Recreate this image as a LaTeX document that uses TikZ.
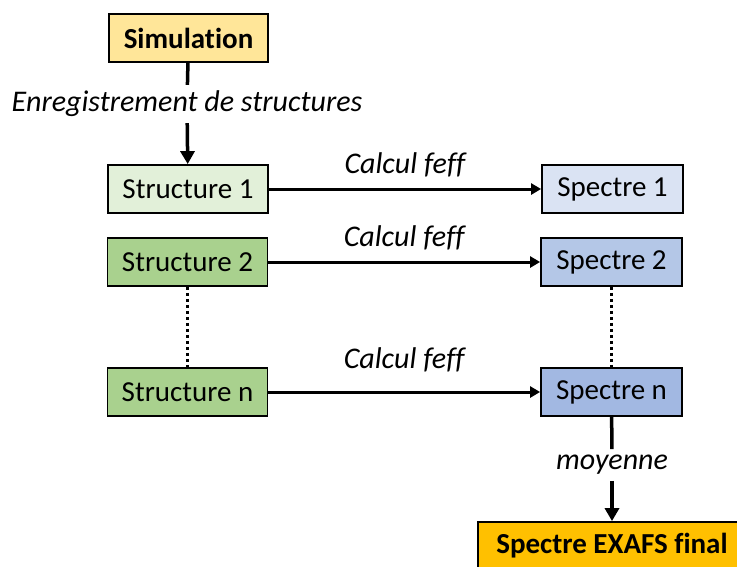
\documentclass[tikz,border=0pt]{standalone}
\usepackage{fontspec}
\setmainfont[Ligatures=NoCommon]{Carlito}
\usetikzlibrary{arrows.meta}

\definecolor{simfill}{HTML}{FFE699}
\definecolor{strucA}{HTML}{E2F0D9}
\definecolor{strucB}{HTML}{A9D18E}
\definecolor{specA}{HTML}{DAE3F3}
\definecolor{specB}{HTML}{B4C7E7}
\definecolor{specC}{HTML}{A2B8E2}
\definecolor{finfill}{HTML}{FFC000}

\begin{document}
\begin{tikzpicture}[x=1pt, y=-1pt,
    box/.style={draw, line width=1.8pt, minimum height=48pt, inner sep=0pt,
      font=\fontsize{29}{34}\selectfont},
    lbl/.style={inner sep=6pt, font=\fontsize{30}{35}\selectfont\itshape},
    down/.style={line width=3.5pt, -{Triangle[length=13pt,width=14pt]}},
    across/.style={line width=3pt, -{Triangle[length=10pt,width=11pt]}},
    dots/.style={line width=3pt, dash pattern=on 3pt off 3pt}
  ]

    \useasboundingbox (0,0) rectangle (737,566);

    % Simulation and recording
    \node[box, fill=simfill, minimum width=159pt,
      font=\fontsize{29}{34}\selectfont\bfseries] (sim) at (188.5,38) {Simulation};
    \node[lbl] (enreg) at (187,104) {Enregistrement de structures};

    % Structures
    \node[box, fill=strucA, minimum width=160pt] (s1) at (188,189) {Structure 1};
    \node[box, fill=strucB, minimum width=160pt] (s2) at (187.5,262) {Structure 2};
    \node[box, fill=strucB, minimum width=160pt] (sn) at (187.5,392) {Structure n};

    % Spectra
    \node[box, fill=specA, minimum width=141pt] (p1) at (612.5,189) {Spectre 1};
    \node[box, fill=specB, minimum width=141pt] (p2) at (611.5,262) {Spectre 2};
    \node[box, fill=specC, minimum width=141pt] (pn) at (611.5,392) {Spectre n};

    % Average and final spectrum
    \node[lbl] (moy) at (612,465) {moyenne};
    \node[box, fill=finfill, minimum width=268pt,
      font=\fontsize{29}{34}\selectfont\bfseries] (fin) at (612,546) {Spectre EXAFS final};

    % Connectors
    \draw[line width=3.5pt] (sim) -- (enreg);
    \draw[down] (enreg) -- (s1);

    \draw[across] (s1) -- node[lbl, above=4pt] {Calcul feff} (p1);
    \draw[across] (s2) -- node[lbl, above=4pt] {Calcul feff} (p2);
    \draw[across] (sn) -- node[lbl, above=12pt] {Calcul feff} (pn);

    \draw[dots] (s2) -- (sn);
    \draw[dots] (p2) -- (pn);

    \draw[line width=3.5pt] (pn) -- (moy);
    \draw[down] (moy) -- (fin);

\end{tikzpicture}
\end{document}
